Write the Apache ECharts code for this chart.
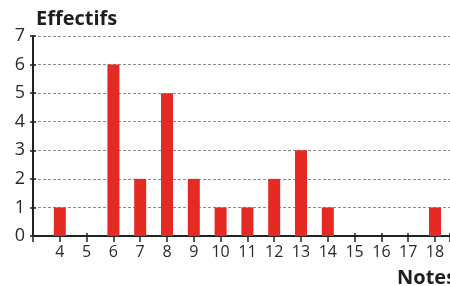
<!DOCTYPE html>
<html>
<head>
<meta charset="utf-8">
<script src="https://cdn.jsdelivr.net/npm/echarts@6/dist/echarts.min.js"></script>
<style>
  html, body { margin: 0; padding: 0; background: #fff; }
  #chart { width: 450px; height: 286px; }
</style>
</head>
<body>
<div id="chart"></div>
<script>
// notes et effectifs
var notes = [4, 5, 6, 7, 8, 9, 10, 11, 12, 13, 14, 15, 16, 17, 18];
var effectifs = [1, 0, 6, 2, 5, 2, 1, 1, 2, 3, 1, 0, 0, 0, 1];

var chart = echarts.init(document.getElementById("chart"));

var pts = notes.map(function (n, i) { return [n, effectifs[i]]; });
var txt = "#2a2a2a";
var font = "Open Sans";

var option = {
  animation: false,
  grid: { left: 33, right: 0, top: 36, bottom: 50, outerBoundsMode: "none" },
  xAxis: [
    {
      type: "value",
      min: 3,
      max: 18.56,
      interval: 1,
      axisLine: { lineStyle: { color: "#222", width: 2 } },
      axisTick: { show: true, length: 6, lineStyle: { color: "#222", width: 1.5 } },
      axisLabel: {
        margin: 8,
        fontFamily: font,
        fontSize: 16,
        color: txt,
        formatter: function (v) { return v >= 4 && v <= 18 ? String(v) : ""; }
      },
      splitLine: { show: false }
    },
    {
      type: "value",
      min: 3,
      max: 18.56,
      interval: 1,
      position: "bottom",
      axisLine: { show: false },
      axisTick: { show: true, inside: true, length: 3, lineStyle: { color: "#222", width: 1.5 } },
      axisLabel: { show: false },
      splitLine: { show: false }
    }
  ],
  yAxis: [
    {
      type: "value",
      min: 0,
      max: 7,
      interval: 1,
      axisLine: { show: true, lineStyle: { color: "#222", width: 2 } },
      axisTick: { show: true, length: 3, lineStyle: { color: "#222", width: 1.5 } },
      axisLabel: { margin: 8, fontFamily: font, fontSize: 18, color: txt },
      splitLine: { show: true, lineStyle: { color: "#8a8a8a", type: [3, 2], width: 1 } }
    },
    {
      type: "value",
      min: 0,
      max: 7,
      interval: 1,
      position: "left",
      axisLine: { show: false },
      axisTick: { show: true, inside: true, length: 3, lineStyle: { color: "#222", width: 1.5 } },
      axisLabel: { show: false },
      splitLine: { show: false }
    }
  ],
  graphic: [
    {
      type: "text",
      left: 36,
      top: 9,
      style: { text: "Effectifs", font: "bold 20px 'Open Sans'", fill: "#1e1e1e" }
    },
    {
      type: "text",
      left: 397,
      top: 268,
      style: { text: "Notes", font: "bold 20px 'Open Sans'", fill: "#1e1e1e" }
    }
  ],
  series: [
    {
      type: "bar",
      data: pts,
      barWidth: 12,
      itemStyle: { color: "#e42a22" }
    }
  ]
};

chart.setOption(option);
</script>
</body>
</html>
